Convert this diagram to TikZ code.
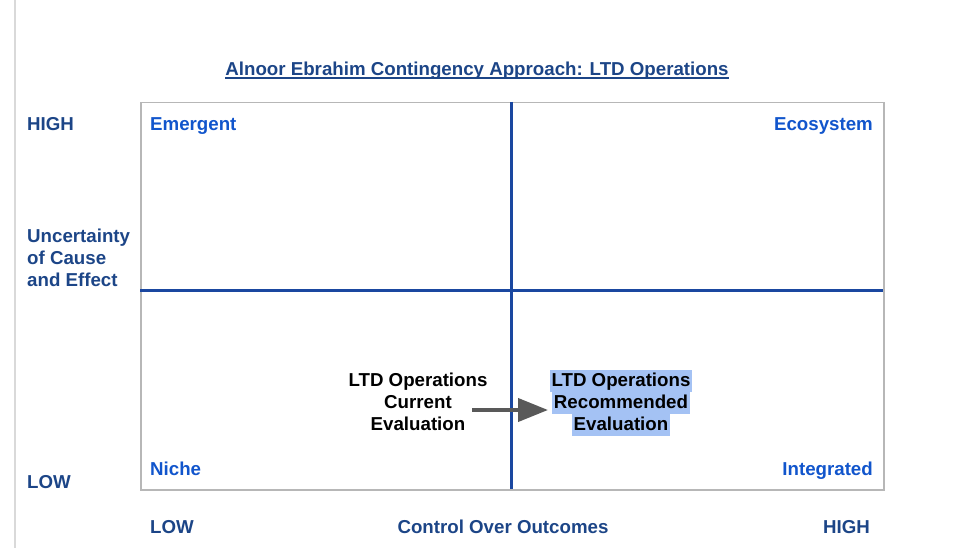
\documentclass[tikz,border=0pt]{standalone}
\usepackage{fontspec}
\setmainfont{Liberation Sans}
\usetikzlibrary{arrows.meta,calc}
\definecolor{dkblue}{HTML}{1C4587}
\definecolor{qblue}{HTML}{1155CC}
\definecolor{lineblue}{HTML}{1A47A0}
\definecolor{hl}{HTML}{A4C2F4}
\definecolor{arrgray}{HTML}{595959}
\definecolor{boxgray}{HTML}{B7B7B7}
\definecolor{edgegray}{HTML}{D9D9D9}
\begin{document}
\begin{tikzpicture}[x=1pt,y=-1pt,
  lbl/.style={font=\fontsize{18.7}{22}\selectfont\bfseries, inner sep=0pt},
  axis/.style={lbl, text=dkblue},
  quad/.style={lbl, text=qblue},
  blk/.style={lbl, text=black, align=center},
  hlline/.style={lbl, text=black, fill=hl, inner xsep=2pt, text height=17pt, text depth=5pt, anchor=base}
]
\useasboundingbox (0,0) rectangle (972,548);
% left edge line
\draw[edgegray, line width=2pt] (15,0) -- (15,548);
% title
\node[axis, anchor=base] (title) at (477,75.5) {Alnoor Ebrahim Contingency Approach: LTD Operations};
\coordinate (ulA) at ($(title.base west)+(0,2.5)$);
\coordinate (ulB) at ($(title.base east)+(0,2.5)$);
\draw[dkblue, line width=1.3pt] (ulA) -- (ulB);
% box
\node[draw=boxgray, line width=1.5pt, minimum width=743pt, minimum height=387pt, inner sep=0pt, anchor=north west] (box) at (140,102) {};
\coordinate (vt) at (511,102);
\coordinate (vb) at (511,489);
\coordinate (hl) at (140,290);
\coordinate (hr) at (883,290);
\draw[lineblue, line width=3pt] (vt) -- (vb);
\draw[lineblue, line width=3pt] (hl) -- (hr);
% axis labels
\node[axis, anchor=base west] (yhigh) at (27,130.5) {HIGH};
\node[axis, anchor=west, align=left] (ylab) at (27,258) {Uncertainty\\of Cause\\and Effect};
\node[axis, anchor=base west] (ylow) at (27,488.5) {LOW};
\node[axis, anchor=base west] (xlow) at (150,533.5) {LOW};
\node[axis, anchor=base] (xlab) at (503,533.5) {Control Over Outcomes};
\node[axis, anchor=base east] (xhigh) at (870,533.5) {HIGH};
% quadrant labels
\node[quad, anchor=base west] (emergent) at (150,130.5) {Emergent};
\node[quad, anchor=base east] (ecosystem) at (873,130.5) {Ecosystem};
\node[quad, anchor=base west] (niche) at (150,475.5) {Niche};
\node[quad, anchor=base east] (integrated) at (873,475.5) {Integrated};
% current evaluation
\node[blk] (current) at (418,402) {LTD Operations\\Current\\Evaluation};
% recommended evaluation (highlighted)
\node[hlline] (rec1) at (621,386.5) {LTD Operations};
\node[hlline] (rec2) at (621,408.5) {Recommended};
\node[hlline] (rec3) at (621,430.5) {Evaluation};
% arrow
\coordinate (as) at (472,410);
\coordinate (ae) at (548,410);
\draw[arrgray, line width=4pt, -{Triangle[length=30pt,width=23pt]}] (as) -- (ae);
\end{tikzpicture}
\end{document}
